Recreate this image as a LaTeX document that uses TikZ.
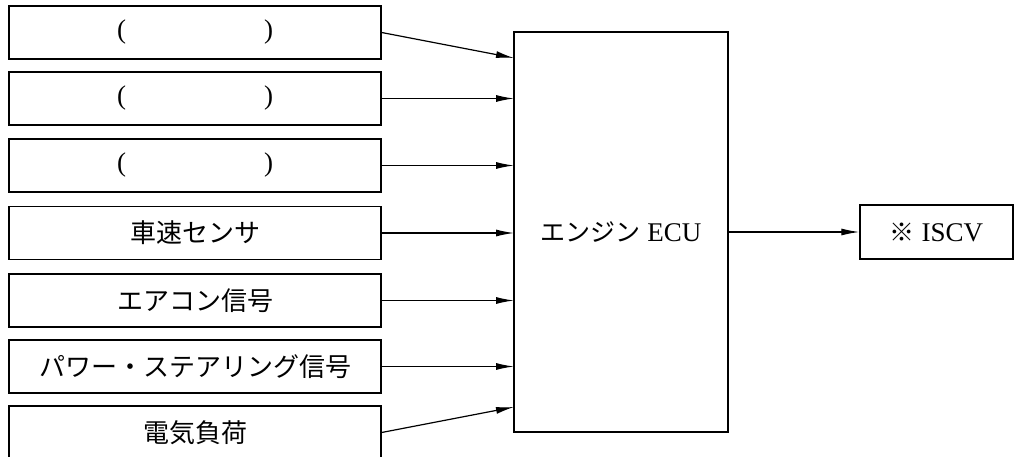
\documentclass[tikz,border=0pt]{standalone}
\usepackage{fontspec}
\setmainfont{Liberation Serif}
\newfontfamily\jp{Noto Sans CJK JP}
\usetikzlibrary{arrows.meta}
\begin{document}
\begin{tikzpicture}[x=1pt,y=-1pt,
  box/.style={draw, line width=1.3pt, minimum width=372pt, minimum height=53pt, inner sep=0pt, font=\fontsize{27}{27}\selectfont},
  jpt/.style={font=\fontsize{26}{26}\selectfont\jp},
  conn/.style={line width=1.2pt, -{Latex[length=18pt,width=7pt]}}]
\useasboundingbox (0,0) rectangle (1015,457);
\clip (0,0) rectangle (1015,457);
\node[box] (b1) at (195,32.5) {(\hspace{138pt})};
\node[box] (b2) at (195,98.5) {(\hspace{138pt})};
\node[box] (b3) at (195,165.5) {(\hspace{138pt})};
\node[box, jpt] (b4) at (195,233) {車速センサ};
\node[box, jpt] (b5) at (195,300.5) {エアコン信号};
\node[box, jpt] (b6) at (195,366.5) {パワー・ステアリング信号};
\node[box, jpt] (b7) at (195,432.5) {電気負荷};
\node[box, minimum width=214pt, minimum height=400pt] (ecu) at (621,232) {{\fontsize{25}{25}\selectfont\jp エンジン} ECU};
\node[box, minimum width=153pt, minimum height=54pt] (iscv) at (936.5,232) {{\fontsize{25}{25}\selectfont\jp ※} ISCV};
\coordinate (e1) at (514,58);
\coordinate (e2) at (514,98.5);
\coordinate (e3) at (514,165.5);
\coordinate (e4) at (514,233);
\coordinate (e5) at (514,300.5);
\coordinate (e6) at (514,366.5);
\coordinate (e7) at (514,407);
\draw[conn] (b1.east) -- (e1);
\draw[conn] (b2.east) -- (e2);
\draw[conn] (b3.east) -- (e3);
\draw[conn] (b4.east) -- (e4);
\draw[conn] (b5.east) -- (e5);
\draw[conn] (b6.east) -- (e6);
\draw[conn] (b7.east) -- (e7);
\draw[conn] (ecu.east) -- (iscv.west);
\end{tikzpicture}
\end{document}
